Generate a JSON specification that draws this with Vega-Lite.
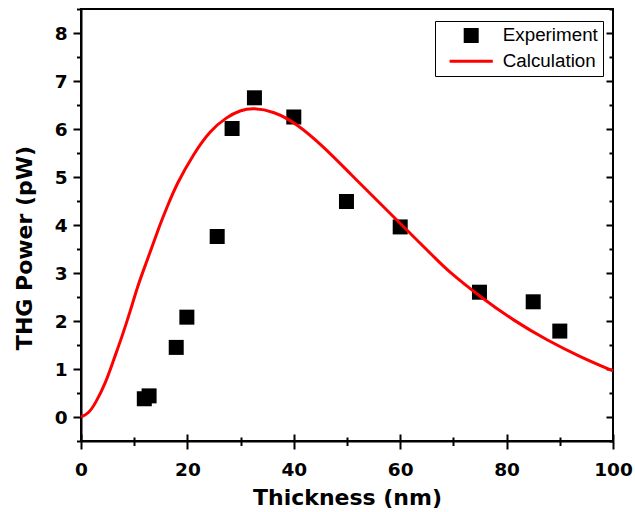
{
  "$schema": "https://vega.github.io/schema/vega-lite/v6.json",
  "width": 532,
  "height": 432,
  "autosize": "none",
  "padding": {"left": 81, "top": 9, "right": 22, "bottom": 71},
  "background": "white",
  "config": {
    "view": {"stroke": "black", "strokeWidth": 2},
    "axis": {
      "domainColor": "black",
      "tickColor": "black",
      "labelColor": "black",
      "titleColor": "black",
      "gridColor": "black",
      "gridOpacity": 1,
      "gridWidth": 2,
      "domainWidth": 2,
      "tickWidth": 2,
      "labelFont": "DejaVu Sans",
      "labelFontWeight": "bold",
      "labelFontSize": 18.5,
      "titleFont": "DejaVu Sans",
      "titleFontWeight": "bold",
      "titleFontSize": 22,
      "labelFlush": false,
      "labelOverlap": false
    }
  },
  "data": {
    "values": [
      {"series": "Experiment", "thickness": 11.9, "power": 0.38},
      {"series": "Experiment", "thickness": 12.8, "power": 0.44},
      {"series": "Experiment", "thickness": 17.9, "power": 1.45},
      {"series": "Experiment", "thickness": 19.9, "power": 2.08},
      {"series": "Experiment", "thickness": 25.6, "power": 3.76},
      {"series": "Experiment", "thickness": 28.4, "power": 6.01},
      {"series": "Experiment", "thickness": 32.6, "power": 6.65},
      {"series": "Experiment", "thickness": 40.0, "power": 6.25},
      {"series": "Experiment", "thickness": 49.9, "power": 4.49},
      {"series": "Experiment", "thickness": 60.0, "power": 3.96},
      {"series": "Experiment", "thickness": 74.9, "power": 2.6},
      {"series": "Experiment", "thickness": 85.0, "power": 2.4},
      {"series": "Experiment", "thickness": 90.0, "power": 1.79},
      {"series": "Calculation", "thickness": 0, "power": 0},
      {"series": "Calculation", "thickness": 1.4, "power": 0.07},
      {"series": "Calculation", "thickness": 2.7, "power": 0.28},
      {"series": "Calculation", "thickness": 4.6, "power": 0.7},
      {"series": "Calculation", "thickness": 6.1, "power": 1.18},
      {"series": "Calculation", "thickness": 7.7, "power": 1.67},
      {"series": "Calculation", "thickness": 9.3, "power": 2.22},
      {"series": "Calculation", "thickness": 10.8, "power": 2.78},
      {"series": "Calculation", "thickness": 12.3, "power": 3.22},
      {"series": "Calculation", "thickness": 14.9, "power": 4.03},
      {"series": "Calculation", "thickness": 16.2, "power": 4.38},
      {"series": "Calculation", "thickness": 18.0, "power": 4.86},
      {"series": "Calculation", "thickness": 21.2, "power": 5.49},
      {"series": "Calculation", "thickness": 24.3, "power": 5.97},
      {"series": "Calculation", "thickness": 27.4, "power": 6.25},
      {"series": "Calculation", "thickness": 29.9, "power": 6.39},
      {"series": "Calculation", "thickness": 32.4, "power": 6.44},
      {"series": "Calculation", "thickness": 36.2, "power": 6.37},
      {"series": "Calculation", "thickness": 40.6, "power": 6.11},
      {"series": "Calculation", "thickness": 45.6, "power": 5.63},
      {"series": "Calculation", "thickness": 50.6, "power": 5.07},
      {"series": "Calculation", "thickness": 56.6, "power": 4.41},
      {"series": "Calculation", "thickness": 61.3, "power": 3.89},
      {"series": "Calculation", "thickness": 66.6, "power": 3.31},
      {"series": "Calculation", "thickness": 68.8, "power": 3.06},
      {"series": "Calculation", "thickness": 75.1, "power": 2.5},
      {"series": "Calculation", "thickness": 81.3, "power": 2.01},
      {"series": "Calculation", "thickness": 87.6, "power": 1.6},
      {"series": "Calculation", "thickness": 93.9, "power": 1.25},
      {"series": "Calculation", "thickness": 100, "power": 0.96}
    ]
  },
  "encoding": {
    "x": {
      "field": "thickness", "type": "quantitative",
      "scale": {"domain": [0, 100], "nice": false, "zero": false},
      "axis": {
        "orient": "bottom",
        "values": [0, 10, 20, 30, 40, 50, 60, 70, 80, 90, 100],
        "labelExpr": "datum.value % 20 === 0 ? '' + datum.value : ''",
        "tickSize": 8,
        "tickDash": {"condition": {"test": "datum.value % 20 === 0", "value": [8, 0]}, "value": [4.5, 20]},
        "grid": true,
        "gridDash": {"condition": {"test": "datum.value % 20 === 0", "value": [0, 425, 7]}, "value": [0, 428, 4]},
        "labelPadding": 11,
        "title": "Thickness (nm)", "titleBaseline": "alphabetic", "titleY": 63.3
      }
    },
    "y": {
      "field": "power", "type": "quantitative",
      "scale": {"domain": [-0.5, 8.5], "nice": false, "zero": false},
      "axis": {
        "orient": "left",
        "values": [-0.5, 0, 0.5, 1, 1.5, 2, 2.5, 3, 3.5, 4, 4.5, 5, 5.5, 6, 6.5, 7, 7.5, 8, 8.5],
        "labelExpr": "datum.value % 1 === 0 ? '' + datum.value : ''",
        "tickSize": 8,
        "tickDash": {"condition": {"test": "datum.value % 1 === 0", "value": [8, 0]}, "value": [4.5, 20]},
        "grid": true,
        "gridDash": {"condition": {"test": "datum.value % 1 === 0", "value": [0, 525, 7]}, "value": [0, 528, 4]},
        "labelPadding": 6,
        "title": "THG Power (pW)", "titleBaseline": "alphabetic", "titleX": -49.3, "titleY": 238.5
      }
    }
  },
  "layer": [
    {
      "transform": [{"filter": "datum.series === 'Experiment'"}],
      "mark": {"type": "point", "filled": false, "fill": "black", "size": 225, "strokeWidth": 0, "opacity": 1},
      "encoding": {
        "color": {
          "field": "series", "type": "nominal",
          "scale": {"domain": ["Experiment", "Calculation"], "range": ["#000000", "#ff0000"]},
          "legend": {
            "title": null, "orient": "none", "legendX": 354, "legendY": 12, "direction": "vertical",
            "strokeColor": "black", "fillColor": "white", "padding": 5,
            "symbolSize": 144, "symbolStrokeWidth": 3, "symbolOffset": 21.8, "labelOffset": 22.2, "rowPadding": 3.8,
            "labelFont": "Liberation Sans", "labelFontSize": 18.8, "labelColor": "black"
          }
        },
        "shape": {
          "field": "series", "type": "nominal",
          "scale": {"domain": ["Experiment", "Calculation"], "range": ["square", "M-3.6,0L3.6,0"]},
          "legend": {
            "title": null, "orient": "none", "legendX": 354, "legendY": 12, "direction": "vertical",
            "strokeColor": "black", "fillColor": "white", "padding": 5,
            "symbolSize": 144, "symbolStrokeWidth": 3, "symbolOffset": 21.8, "labelOffset": 22.2, "rowPadding": 3.8,
            "labelFont": "Liberation Sans", "labelFontSize": 18.8, "labelColor": "black"
          }
        }
      }
    },
    {
      "transform": [{"filter": "datum.series === 'Calculation'"}],
      "mark": {"type": "line", "color": "#ff0000", "strokeWidth": 3, "interpolate": "basis"}
    }
  ]
}
